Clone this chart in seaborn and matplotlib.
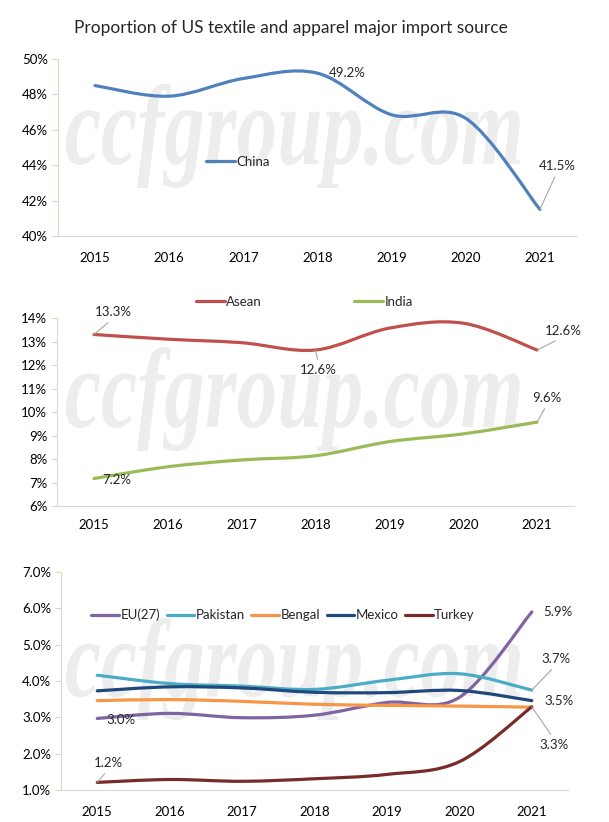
import numpy as np
import pandas as pd
import matplotlib
matplotlib.use("Agg")
import matplotlib.pyplot as plt
from matplotlib.path import Path
from matplotlib.patches import PathPatch
from matplotlib.lines import Line2D
from matplotlib.textpath import TextPath
from matplotlib.font_manager import FontProperties
from matplotlib.transforms import Affine2D
import seaborn as sns

sns.set_style("white")
plt.rcParams["font.family"] = ["Lato", "DejaVu Sans"]

# data (share of US textile & apparel imports, %)
years = ["2015", "2016", "2017", "2018", "2019", "2020", "2021"]
china = [48.5, 47.9, 48.9, 49.2, 46.85, 46.65, 41.5]
asean = [13.3, 13.1, 12.95, 12.64, 13.57, 13.78, 12.64]
india = [7.17, 7.67, 7.96, 8.14, 8.74, 9.07, 9.57]
eu27 = [2.97, 3.11, 2.99, 3.06, 3.41, 3.55, 5.9]
pakistan = [4.16, 3.93, 3.86, 3.77, 4.02, 4.2, 3.75]
bengal = [3.46, 3.49, 3.44, 3.36, 3.33, 3.31, 3.28]
mexico = [3.73, 3.84, 3.81, 3.69, 3.68, 3.74, 3.46]
turkey = [1.21, 1.29, 1.24, 1.31, 1.43, 1.78, 3.29]

colors = {"China": "#4F81BD", "Asean": "#C0504D", "India": "#9BBB59",
          "EU(27)": "#8064A2", "Pakistan": "#4BACC6", "Bengal": "#F79646",
          "Mexico": "#1F497D", "Turkey": "#772C2A"}

FS = 9.5
LW = 2.3
H = 822  # figure height in px


def smooth(line, ax):
    # excel-like smoothed line drawn as bezier through the plotted points
    pts = np.column_stack(line.get_data())
    ext = np.vstack([pts[0], pts, pts[-1]])
    verts, codes = [pts[0]], [Path.MOVETO]
    for i in range(len(pts) - 1):
        p0, p1, p2, p3 = ext[i], ext[i + 1], ext[i + 2], ext[i + 3]
        verts += [p1 + (p2 - p0) / 6, p2 - (p3 - p1) / 6, p2]
        codes += [Path.CURVE4] * 3
    ax.add_patch(PathPatch(Path(verts, codes), fill=False, lw=LW,
                           edgecolor=line.get_color(), capstyle="round",
                           joinstyle="round", zorder=3))
    line.set_visible(False)


def watermark(ax, box):
    # stretched italic serif watermark fitted into a pixel box (x0, top, x1, bottom)
    tp = TextPath((0, 0), "ccfgroup.com", size=1,
                  prop=FontProperties(family="Liberation Serif", style="italic",
                                      weight="bold"))
    ext = tp.get_extents()
    x0, top, x1, bot = box
    sx = (x1 - x0) / ext.width
    sy = (bot - top) / ext.height
    tr = Affine2D().translate(-ext.x0, -ext.y0).scale(sx, sy).translate(x0, H - bot)
    ax.add_patch(PathPatch(tp, transform=tr, facecolor="#EDEDED",
                           edgecolor="none", zorder=0, clip_on=False))


def draw(ax, series, ylim, step, fmt, xpad):
    x = np.arange(len(years))
    for name, vals in series.items():
        df = pd.DataFrame({"x": x, "v": vals})
        sns.lineplot(data=df, x="x", y="v", color=colors[name], ax=ax,
                     legend=False)
        smooth(ax.lines[-1], ax)
    ax.set_xlim(-0.5, len(years) - 0.5)
    ax.set_ylim(*ylim)
    ax.set_yticks(np.arange(ylim[0], ylim[1] + step / 2, step))
    ax.set_yticklabels([fmt.format(t) for t in ax.get_yticks()])
    ax.set_xticks(x)
    ax.set_xticklabels(years)
    ax.set_xlabel("")
    ax.set_ylabel("")
    for s in ["top", "right"]:
        ax.spines[s].set_visible(False)
    ax.spines["left"].set_color("#DDD8C4")
    ax.spines["bottom"].set_color("#D9D9D9")
    ax.tick_params(axis="y", left=True, length=4, width=0.8, color="#DDD8C4",
                   pad=3, labelsize=FS, labelcolor="#000000")
    ax.tick_params(axis="x", bottom=False, pad=xpad, labelsize=FS,
                   labelcolor="#000000")


def label(ax, i, v, text, dx, dy, lead=None):
    kw = {}
    if lead is not None:
        kw["arrowprops"] = dict(arrowstyle="-", color="#A6A6A6", lw=0.8,
                                shrinkA=1, shrinkB=0, relpos=lead)
    ax.annotate(text, xy=(i, v), xytext=(dx, dy), textcoords="offset pixels",
                ha="center", va="center", fontsize=FS, zorder=5, **kw)


fig = plt.figure(figsize=(6.09, 8.22), dpi=100)
ax1 = fig.add_axes([0.0952, 0.7129, 0.8522, 0.2153])
ax2 = fig.add_axes([0.0936, 0.3844, 0.8490, 0.2287])
ax3 = fig.add_axes([0.1002, 0.0389, 0.8325, 0.2652])

fig.text(0.478, 0.966, "Proportion of US textile and apparel major import source",
         ha="center", va="center", fontsize=12.5)

# panel 1
draw(ax1, {"China": china}, (40, 50), 2, "{:.0f}%", 8)
watermark(ax1, (66, 84, 520, 188))
label(ax1, 3, china[3], "49.2%", 30, 0)
label(ax1, 6, china[6], "41.5%", 17, 43, (0.5, 0))
ax1.legend([Line2D([], [], color=colors["China"], lw=LW)], ["China"],
           loc="center", bbox_to_anchor=(0.347, 0.418), frameon=False,
           fontsize=FS, handlelength=2.2, handletextpad=0.1)

# panel 2
draw(ax2, {"Asean": asean, "India": india}, (6, 14), 1, "{:.0f}%", 6)
watermark(ax2, (66, 347, 520, 451))
label(ax2, 0, asean[0], "13.3%", 19, 22, (0.5, 0))
label(ax2, 3, asean[3], "12.6%", 3, -20, (0.5, 1))
label(ax2, 6, asean[6], "12.6%", 26, 19, (0.5, 0))
label(ax2, 6, india[6], "9.6%", 10, 24, (0.5, 0))
label(ax2, 0, india[0], "7.2%", 23, -1)
ax2.legend([Line2D([], [], color=colors[n], lw=LW) for n in ["Asean", "India"]],
           ["Asean", "India"], loc="center", bbox_to_anchor=(0.478, 1.085),
           ncol=2, frameon=False, fontsize=FS, handlelength=2.2,
           handletextpad=0.1, columnspacing=7)

# panel 3
others = {"EU(27)": eu27, "Pakistan": pakistan, "Bengal": bengal,
          "Mexico": mexico, "Turkey": turkey}
draw(ax3, others, (1, 7), 1, "{:.1f}%", 8)
watermark(ax3, (66, 618, 520, 720))
label(ax3, 6, eu27[6], "5.9%", 26, 0)
label(ax3, 6, pakistan[6], "3.7%", 24, 31, (0.5, 0))
label(ax3, 6, mexico[6], "3.5%", 27, 0)
label(ax3, 6, turkey[6], "3.3%", 22, -38, (0.5, 1))
label(ax3, 0, eu27[0], "3.0%", 24, -2)
label(ax3, 0, turkey[0], "1.2%", 11, 19, (0.5, 0))
ax3.legend([Line2D([], [], color=colors[n], lw=LW) for n in others],
           list(others), loc="center", bbox_to_anchor=(0.438, 0.803),
           ncol=5, frameon=False, fontsize=FS, handlelength=2.1,
           handletextpad=0.1, columnspacing=0.5)

fig.savefig("out.png", dpi=100, facecolor="white")
